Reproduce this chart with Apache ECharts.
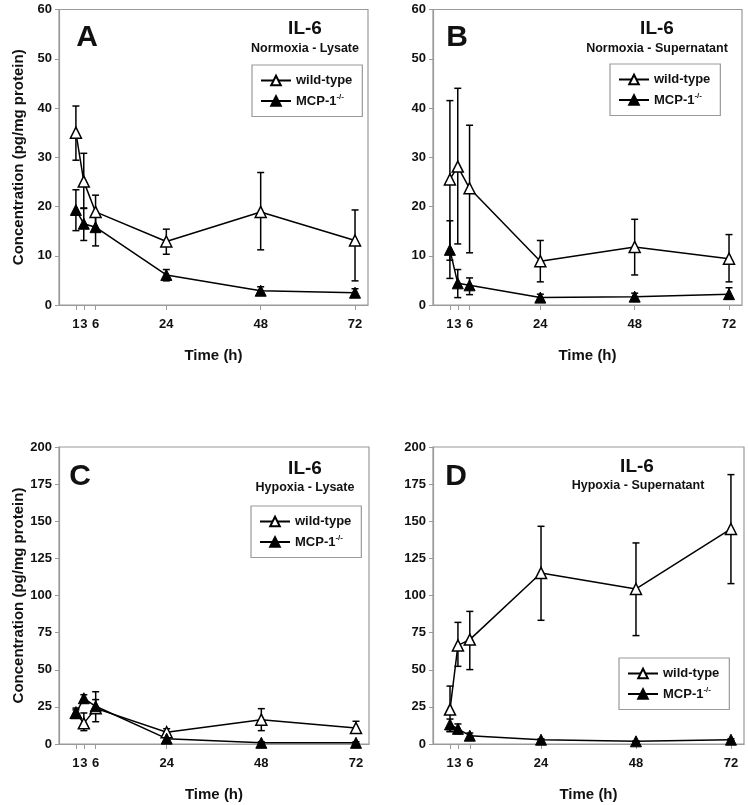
<!DOCTYPE html>
<html>
<head>
<meta charset="utf-8">
<script src="https://cdn.jsdelivr.net/npm/echarts@6/dist/echarts.min.js"></script>
<style>html,body{margin:0;padding:0;background:#fff}#c{width:748px;height:805px}</style>
</head>
<body>
<div id="c"></div>
<script>
const times = [1, 3, 6, 24, 48, 72];
const xTickLabels = [1, 3, 6, 24, 48, 72];

// Panel A: Normoxia - Lysate
const aWtMean = [35.0, 25.1, 18.9, 12.9, 18.9, 13.1];
const aWtHigh = [40.4, 30.8, 22.3, 15.4, 26.9, 19.3];
const aWtLow = [29.4, 19.6, 15.5, 10.3, 11.2, 4.9];
const aMcpMean = [19.3, 16.5, 15.8, 6.1, 2.9, 2.5];
const aMcpHigh = [23.4, 19.7, 18.5, 7.2, 3.7, 3.3];
const aMcpLow = [15.1, 13.1, 12.0, 4.9, 2.2, 1.8];

// Panel B: Normoxia - Supernatant
const bWtMean = [25.5, 28.1, 23.7, 8.9, 11.8, 9.4];
const bWtHigh = [41.5, 44.0, 36.5, 13.1, 17.4, 14.3];
const bWtLow = [5.4, 12.4, 10.6, 4.7, 6.1, 4.7];
const bMcpMean = [11.2, 4.4, 4.0, 1.5, 1.7, 2.2];
const bMcpHigh = [17.1, 7.2, 5.5, 2.2, 2.4, 3.5];
const bMcpLow = [9.1, 1.5, 2.1, 0.8, 0.9, 1.2];

// Panel C: Hypoxia - Lysate
const cWtMean = [21.0, 13.9, 24.0, 7.9, 16.4, 10.8];
const cWtHigh = [23.0, 20.9, 35.2, 10.3, 23.8, 15.3];
const cWtLow = [19.0, 9.0, 15.0, 5.2, 9.0, 7.4];
const cMcpMean = [20.7, 30.8, 25.4, 3.6, 0.8, 0.8];
const cMcpHigh = [24.2, 33.2, 29.9, 5.2, 1.5, 1.5];
const cMcpLow = [18.0, 27.6, 20.9, 2.5, 0.3, 0.3];

// Panel D: Hypoxia - Supernatant
const dWtMean = [23.2, 66.4, 70.3, 115.2, 104.4, 144.8];
const dWtHigh = [39.0, 81.9, 89.3, 146.6, 135.4, 181.4];
const dWtLow = [8.3, 52.3, 50.1, 83.3, 73.0, 108.0];
const dMcpMean = [13.2, 10.2, 5.6, 2.9, 1.8, 2.9];
const dMcpHigh = [16.8, 13.5, 7.4, 3.5, 2.2, 3.5];
const dMcpLow = [8.5, 7.0, 3.8, 2.3, 1.4, 2.3];

const panelLetters = ['A', 'B', 'C', 'D'];
const panelTitles = ['IL-6', 'IL-6', 'IL-6', 'IL-6'];
const panelSubtitles = ['Normoxia - Lysate', 'Normoxia - Supernatant', 'Hypoxia - Lysate', 'Hypoxia - Supernatant'];
const seriesNames = ['wild-type', 'MCP-1'];
const yAxisName = 'Concentration (pg/mg protein)';
const xAxisName = 'Time (h)';

const FONT = '"Liberation Sans", Arial, sans-serif';
const GRAY = '#9a9a9a';

const panels = [
  {wt:[aWtMean,aWtHigh,aWtLow], mcp:[aMcpMean,aMcpHigh,aMcpLow], ymax:60, yint:10,
   grid:{left:59, top:9.5, width:309, height:295.5},
   legend:{left:252, top:65}, letter:[87,38], title:[305,29], sub:[305,49]},
  {wt:[bWtMean,bWtHigh,bWtLow], mcp:[bMcpMean,bMcpHigh,bMcpLow], ymax:60, yint:10,
   grid:{left:433, top:9.5, width:309, height:295.5},
   legend:{left:610, top:64}, letter:[457,38], title:[657,29], sub:[657,49]},
  {wt:[cWtMean,cWtHigh,cWtLow], mcp:[cMcpMean,cMcpHigh,cMcpLow], ymax:200, yint:25,
   grid:{left:59, top:447, width:310, height:297},
   legend:{left:251, top:506}, letter:[80,477], title:[305,469], sub:[305,488]},
  {wt:[dWtMean,dWtHigh,dWtLow], mcp:[dMcpMean,dMcpHigh,dMcpLow], ymax:200, yint:25,
   grid:{left:433, top:447, width:311, height:297},
   legend:{left:619, top:658}, letter:[456,477], title:[637,467], sub:[638,486]}
];

function errRender(params, api) {
  const x = api.value(0), lo = api.value(1), hi = api.value(2);
  const p1 = api.coord([x, hi]);
  const p2 = api.coord([x, lo]);
  const w = 3.5;
  const style = {stroke: '#000', lineWidth: 1.5};
  return {type: 'group', children: [
    {type: 'line', shape: {x1: p1[0], y1: p1[1], x2: p2[0], y2: p2[1]}, style: style},
    {type: 'line', shape: {x1: p1[0]-w, y1: p1[1], x2: p1[0]+w, y2: p1[1]}, style: style},
    {type: 'line', shape: {x1: p2[0]-w, y1: p2[1], x2: p2[0]+w, y2: p2[1]}, style: style}
  ]};
}

const grids = [], xAxes = [], yAxes = [], series = [], legends = [], graphics = [];
panels.forEach((p, i) => {
  grids.push(Object.assign({show: true, borderColor: GRAY, borderWidth: 1.2, backgroundColor: 'transparent'}, p.grid));
  xAxes.push({
    type: 'value', gridIndex: i, min: -3.3, max: 75.3,
    name: xAxisName, nameLocation: 'middle', nameGap: 43,
    nameTextStyle: {fontFamily: FONT, fontWeight: 'bold', fontSize: 15, color: '#111'},
    axisLine: {show: true, onZero: false, lineStyle: {color: GRAY, width: 1.2}},
    axisTick: {show: true, customValues: xTickLabels, length: 5, lineStyle: {color: GRAY}},
    axisLabel: {customValues: xTickLabels, hideOverlap: false, showMinLabel: true, margin: 13, fontFamily: FONT, fontWeight: 'bold', fontSize: 13, color: '#111'},
    splitLine: {show: false}
  });
  yAxes.push({
    type: 'value', gridIndex: i, min: 0, max: p.ymax, interval: p.yint,
    name: (i % 2 === 0) ? yAxisName : '', nameLocation: 'middle', nameGap: 33,
    nameTextStyle: {fontFamily: FONT, fontWeight: 'bold', fontSize: 15, color: '#111'},
    axisLine: {show: true, onZero: false, lineStyle: {color: GRAY, width: 1.2}},
    axisTick: {show: true, length: 4, lineStyle: {color: GRAY}},
    axisLabel: {margin: 7, fontFamily: FONT, fontWeight: 'bold', fontSize: 13, color: '#111'},
    splitLine: {show: false}
  });
  const groups = [p.wt, p.mcp];
  groups.forEach((g, k) => {
    series.push({
      type: 'custom', name: seriesNames[k] + '-err' + i, xAxisIndex: i, yAxisIndex: i,
      renderItem: errRender, z: 1,
      encode: {x: 0, y: [1, 2]},
      data: times.map((t, j) => [t, g[2][j], g[1][j]])
    });
  });
  groups.forEach((g, k) => {
    series.push({
      type: 'line', name: seriesNames[k], xAxisIndex: i, yAxisIndex: i, z: 3,
      symbol: 'triangle', symbolSize: 11,
      lineStyle: {color: '#000', width: 1.5},
      itemStyle: k === 0 ? {color: '#fff', borderColor: '#000', borderWidth: 1.5} : {color: '#000', borderColor: '#000', borderWidth: 1},
      data: times.map((t, j) => [t, g[0][j]]),
      animation: false
    });
  });
  legends.push({
    left: p.legend.left, top: p.legend.top, orient: 'vertical',
    data: seriesNames, selectedMode: false,
    borderColor: GRAY, borderWidth: 1.2, padding: [9, 10, 9, 8], itemGap: 6,
    itemWidth: 30, itemHeight: 12,
    textStyle: {fontFamily: FONT, fontWeight: 'bold', fontSize: 13, color: '#111',
      rich: {sup: {fontFamily: FONT, fontWeight: 'bold', fontSize: 8, color: '#111', verticalAlign: 'top', padding: [0, 0, 8, 0]}}},
    formatter: name => name === 'MCP-1' ? 'MCP-1{sup|-/-}' : name
  });
  graphics.push({type: 'text', x: p.letter[0], y: p.letter[1], style: {text: panelLetters[i], font: 'bold 30px ' + FONT, fill: '#111', textAlign: 'center', textVerticalAlign: 'middle'}});
  graphics.push({type: 'text', x: p.title[0], y: p.title[1], style: {text: panelTitles[i], font: 'bold 19px ' + FONT, fill: '#111', textAlign: 'center', textVerticalAlign: 'middle'}});
  graphics.push({type: 'text', x: p.sub[0], y: p.sub[1], style: {text: panelSubtitles[i], font: 'bold 12.5px ' + FONT, fill: '#111', textAlign: 'center', textVerticalAlign: 'middle'}});
});

const chart = echarts.init(document.getElementById('c'), null, {renderer: 'canvas'});
chart.setOption({
  animation: false,
  backgroundColor: '#fff',
  grid: grids, xAxis: xAxes, yAxis: yAxes, series: series, legend: legends, graphic: graphics
});
</script>
</body>
</html>
